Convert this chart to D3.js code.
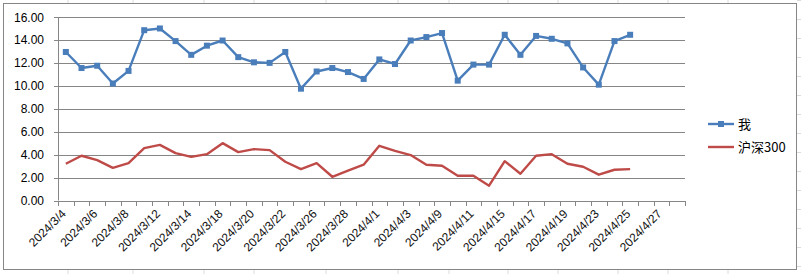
<!DOCTYPE html>
<html>
<head>
<meta charset="utf-8">
<script src="https://cdn.jsdelivr.net/npm/d3@7"></script>
<style>
  body { margin: 0; background: #fff; }
  svg { display: block; }
</style>
</head>
<body>
<script>
// trading days shown on the category axis
const dates = [
    '2024/3/4', '2024/3/5', '2024/3/6', '2024/3/7', '2024/3/8', '2024/3/11', '2024/3/12', '2024/3/13',
    '2024/3/14', '2024/3/15', '2024/3/18', '2024/3/19', '2024/3/20', '2024/3/21', '2024/3/22', '2024/3/25',
    '2024/3/26', '2024/3/27', '2024/3/28', '2024/3/29', '2024/4/1', '2024/4/2', '2024/4/3', '2024/4/8',
    '2024/4/9', '2024/4/10', '2024/4/11', '2024/4/12', '2024/4/15', '2024/4/16', '2024/4/17', '2024/4/18',
    '2024/4/19', '2024/4/22', '2024/4/23', '2024/4/24', '2024/4/25', '2024/4/26', '2024/4/27', '2024/4/28'
];

const mine = [
    12.95, 11.55, 11.75, 10.2, 11.3, 14.85, 15.0, 13.9, 12.7, 13.5, 13.95, 12.5, 12.05, 12.0, 12.95,
    9.75, 11.25, 11.55, 11.2, 10.6, 12.3, 11.9, 13.95, 14.25, 14.6, 10.45, 11.85, 11.85, 14.45, 12.7,
    14.35, 14.1, 13.7, 11.6, 10.1, 13.9, 14.45
];

const hs300 = [
    3.2, 3.9, 3.52, 2.85, 3.26, 4.57, 4.85, 4.13, 3.8, 4.04, 5.0, 4.22, 4.48, 4.39, 3.38,
    2.74, 3.26, 2.07, 2.6, 3.12, 4.77, 4.33, 3.96, 3.12, 3.03, 2.16, 2.16, 1.29, 3.43, 2.33,
    3.9, 4.04, 3.2, 2.94, 2.25, 2.68, 2.74
];

const yTicks = [0, 2, 4, 6, 8, 10, 12, 14, 16];
const seriesNames = ['我', '沪深300'];

const W = 801, H = 274;
const plotLeft = 58, plotRight = 685, plotTop = 17, plotBottom = 200.5;
const blue = '#4a7ebb', red = '#be4b48', grid = '#868686';

const svg = d3.select("body").append("svg")
    .attr("width", W)
    .attr("height", H);

// spreadsheet cell lines peeking around the chart frame
const cellCols = [68, 133, 204, 254, 326, 398, 449, 508, 558, 618, 668, 728];
svg.selectAll("line.cellv")
    .data(cellCols)
    .enter().append("line")
    .attr("x1", d => d).attr("x2", d => d)
    .attr("y1", 0).attr("y2", H)
    .attr("stroke", "#dadcdd");
svg.selectAll("line.cellh")
    .data(d3.range(0, H, 19))
    .enter().append("line")
    .attr("x1", 797).attr("x2", W)
    .attr("y1", d => d + 0.5).attr("y2", d => d + 0.5)
    .attr("stroke", "#dadcdd");

// chart area with frame
svg.append("rect")
    .attr("x", 3.5).attr("y", 3.5)
    .attr("width", 793).attr("height", 266)
    .attr("fill", "#fff")
    .attr("stroke", grid);

const x = d3.scaleBand().domain(dates).range([plotLeft, plotRight]).padding(0);
const y = d3.scaleLinear().domain([0, 16]).range([plotBottom, plotTop]);
const cx = d => x(d) + x.bandwidth() / 2;

// horizontal gridlines + y tick marks
svg.append("g")
    .selectAll("line")
    .data(yTicks)
    .enter().append("line")
    .attr("x1", plotLeft - 4).attr("x2", plotRight)
    .attr("y1", d => Math.round(y(d)) + 0.5)
    .attr("y2", d => Math.round(y(d)) + 0.5)
    .attr("stroke", grid);

svg.append("g")
    .selectAll("text")
    .data(yTicks)
    .enter().append("text")
    .attr("x", 44)
    .attr("y", d => y(d) + 4.5)
    .attr("text-anchor", "end")
    .attr("font-family", "Liberation Sans, Arial, sans-serif")
    .attr("font-size", 12)
    .attr("fill", "#000")
    .text(d => d3.format(".2f")(d));

// vertical axis line
svg.append("line")
    .attr("x1", plotLeft + 0.5).attr("x2", plotLeft + 0.5)
    .attr("y1", plotTop).attr("y2", plotBottom)
    .attr("stroke", grid);

// x tick marks at category boundaries
const edges = dates.map(d => x(d)).concat([plotRight]);
svg.append("g")
    .selectAll("line")
    .data(edges)
    .enter().append("line")
    .attr("x1", d => Math.round(d) + 0.5).attr("x2", d => Math.round(d) + 0.5)
    .attr("y1", Math.round(plotBottom)).attr("y2", Math.round(plotBottom) + 5)
    .attr("stroke", grid);

// x labels, every other category, rotated
const xAxis = d3.axisBottom(x)
    .tickValues(dates.filter((d, i) => i % 2 === 0))
    .tickSize(0)
    .tickPadding(0);

const gx = svg.append("g")
    .attr("transform", "translate(0," + plotBottom + ")")
    .call(xAxis);
gx.select(".domain").remove();
gx.selectAll("text")
    .attr("font-family", "Liberation Sans, Arial, sans-serif")
    .attr("font-size", 12)
    .attr("fill", "#111")
    .attr("text-anchor", "end")
    .attr("dy", null)
    .attr("y", 0)
    .attr("transform", "translate(1,14) rotate(-45)");

// series lines
const line = d3.line()
    .x((d, i) => cx(dates[i]))
    .y(d => y(d));

svg.append("path")
    .datum(hs300)
    .attr("fill", "none")
    .attr("stroke", red)
    .attr("stroke-width", 2.4)
    .attr("stroke-linejoin", "round")
    .attr("d", line);

svg.append("path")
    .datum(mine)
    .attr("fill", "none")
    .attr("stroke", blue)
    .attr("stroke-width", 2.4)
    .attr("stroke-linejoin", "round")
    .attr("d", line);

svg.append("g")
    .selectAll("rect")
    .data(mine)
    .enter().append("rect")
    .attr("x", (d, i) => cx(dates[i]) - 3)
    .attr("y", d => y(d) - 3)
    .attr("width", 6)
    .attr("height", 6)
    .attr("fill", blue);

// legend
const legend = svg.append("g").attr("transform", "translate(708,124)");
const legColors = [blue, red];
legend.selectAll("line")
    .data(seriesNames)
    .enter().append("line")
    .attr("x1", 0).attr("x2", 26)
    .attr("y1", (d, i) => i * 23).attr("y2", (d, i) => i * 23)
    .attr("stroke", (d, i) => legColors[i])
    .attr("stroke-width", 2.4);
legend.append("rect")
    .attr("x", 10).attr("y", -3)
    .attr("width", 6).attr("height", 6)
    .attr("fill", blue);
legend.selectAll("text")
    .data(seriesNames)
    .enter().append("text")
    .attr("x", 30)
    .attr("y", (d, i) => i * 23 + 5)
    .attr("font-family", "Noto Sans CJK SC, sans-serif")
    .attr("font-size", 13)
    .attr("fill", "#000")
    .text(d => d);
</script>
</body>
</html>
